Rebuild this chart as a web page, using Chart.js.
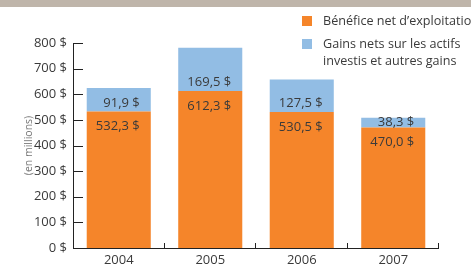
<!DOCTYPE html>
<html>
<head>
<meta charset="utf-8">
<script src="https://cdn.jsdelivr.net/npm/chart.js@4.4.1/dist/chart.umd.min.js"></script>
<style>
  html, body { margin: 0; padding: 0; background: #fff; }
  #wrap { position: relative; width: 471px; height: 267px; overflow: hidden; font-family: "Open Sans", "Noto Sans", sans-serif; }
  #band { position: absolute; left: 0; top: 0; width: 471px; height: 7px; background: #bfb5aa; }
  #legend { position: absolute; left: 302px; top: 12px; font-size: 12.6px; color: #3a3a3a; line-height: 17px; white-space: nowrap; }
  .item { position: relative; padding-left: 21px; margin-bottom: 6px; }
  .sw { position: absolute; left: 0; top: 4px; width: 10px; height: 10px; }
  canvas { position: absolute; left: 0; top: 0; }
</style>
</head>
<body>
<div id="wrap">
  <canvas id="c" width="471" height="267"></canvas>
  <div id="band"></div>
  <div id="legend"></div>
</div>
<script>
const categories = ["2004", "2005", "2006", "2007"];
const seriesNames = ["Bénéfice net d’exploitation", "Gains nets sur les actifs investis et autres gains"];
const legendLines = [["Bénéfice net d’exploitation"], ["Gains nets sur les actifs", "investis et autres gains"]];
const beneficeNet = [532.3, 612.3, 530.5, 470.0];
const gainsNets = [91.9, 169.5, 127.5, 38.3];
const yTicks = [0, 100, 200, 300, 400, 500, 600, 700, 800];
const colors = ["#f5852a", "#92bde4"];

function fmt(v) { return v.toFixed(1).replace('.', ',') + ' $'; }

const FONT = '"Open Sans", "Noto Sans", sans-serif';
const TEXT = '#3a3a3a';

// HTML legend
const leg = document.getElementById('legend');
legendLines.forEach((lines, i) => {
  const d = document.createElement('div');
  d.className = 'item';
  const s = document.createElement('span');
  s.className = 'sw'; s.style.background = colors[i];
  d.appendChild(s);
  lines.forEach((t, j) => {
    if (j) d.appendChild(document.createElement('br'));
    d.appendChild(document.createTextNode(t));
  });
  leg.appendChild(d);
});

const innerTicks = {
  id: 'innerTicks',
  afterDraw(chart) {
    const ctx = chart.ctx;
    const x = chart.scales.x, y = chart.scales.y;
    const area = chart.chartArea;
    ctx.save();
    ctx.strokeStyle = '#222';
    ctx.lineWidth = 1;
    y.ticks.forEach(t => {
      const py = Math.round(y.getPixelForValue(t.value)) + 0.5;
      ctx.beginPath();
      ctx.moveTo(area.left, py);
      ctx.lineTo(area.left + 10, py);
      ctx.stroke();
    });
    for (let i = 1; i <= categories.length; i++) {
      const px = Math.round(x.getPixelForValue(i - 0.5)) - 0.5;
      ctx.beginPath();
      ctx.moveTo(px, area.bottom);
      ctx.lineTo(px, area.bottom - 5);
      ctx.stroke();
    }
    ctx.beginPath();
    ctx.moveTo(area.left + 0.5, area.top);
    ctx.lineTo(area.left + 0.5, area.bottom + 0.5);
    ctx.lineTo(area.right, area.bottom + 0.5);
    ctx.stroke();
    ctx.restore();
  }
};

const barLabels = {
  id: 'barLabels',
  afterDatasetsDraw(chart) {
    const ctx = chart.ctx;
    ctx.save();
    ctx.font = '13px ' + FONT;
    ctx.fillStyle = TEXT;
    ctx.textAlign = 'right';
    ctx.textBaseline = 'middle';
    const m0 = chart.getDatasetMeta(0), m1 = chart.getDatasetMeta(1);
    m0.data.forEach((bar, i) => {
      const xr = bar.x + 21;
      ctx.fillText(fmt(beneficeNet[i]), xr, bar.y + 15);
      const b1 = m1.data[i];
      const h = b1.base - b1.y;
      ctx.fillText(fmt(gainsNets[i]), xr, b1.base - Math.min(8.5, h / 2 + 0.5));
    });
    ctx.restore();
  }
};

new Chart(document.getElementById('c'), {
  type: 'bar',
  data: {
    labels: categories,
    datasets: [
      { label: seriesNames[0], data: beneficeNet, backgroundColor: colors[0], borderWidth: 0 },
      { label: seriesNames[1], data: gainsNets, backgroundColor: colors[1], borderWidth: 0 }
    ]
  },
  options: {
    responsive: false,
    animation: false,
    devicePixelRatio: 1,
    layout: { padding: { left: 0, top: 43, right: 32, bottom: 0 } },
    datasets: { bar: { barPercentage: 0.7, categoryPercentage: 1.0 } },
    plugins: { legend: { display: false }, tooltip: { enabled: false } },
    scales: {
      x: {
        stacked: true,
        grid: { display: false, drawTicks: false },
        border: { display: false },
        ticks: { color: TEXT, font: { family: FONT, size: 13 }, padding: 4 },
        afterFit(s) { s.height = 19; }
      },
      y: {
        stacked: true,
        min: 0, max: 800,
        afterBuildTicks(s) { s.ticks = yTicks.map(v => ({ value: v })); },
        grid: { display: false, drawTicks: false },
        border: { display: false },
        ticks: { color: TEXT, font: { family: FONT, size: 13 }, padding: 6, callback: v => v + ' $' },
        title: { display: true, text: '(en millions)', color: '#777', font: { family: FONT, size: 10.5 }, padding: { top: 23, bottom: 0 } },
        afterFit(s) { s.width = 73; }
      }
    }
  },
  plugins: [innerTicks, barLabels]
});
</script>
</body>
</html>
